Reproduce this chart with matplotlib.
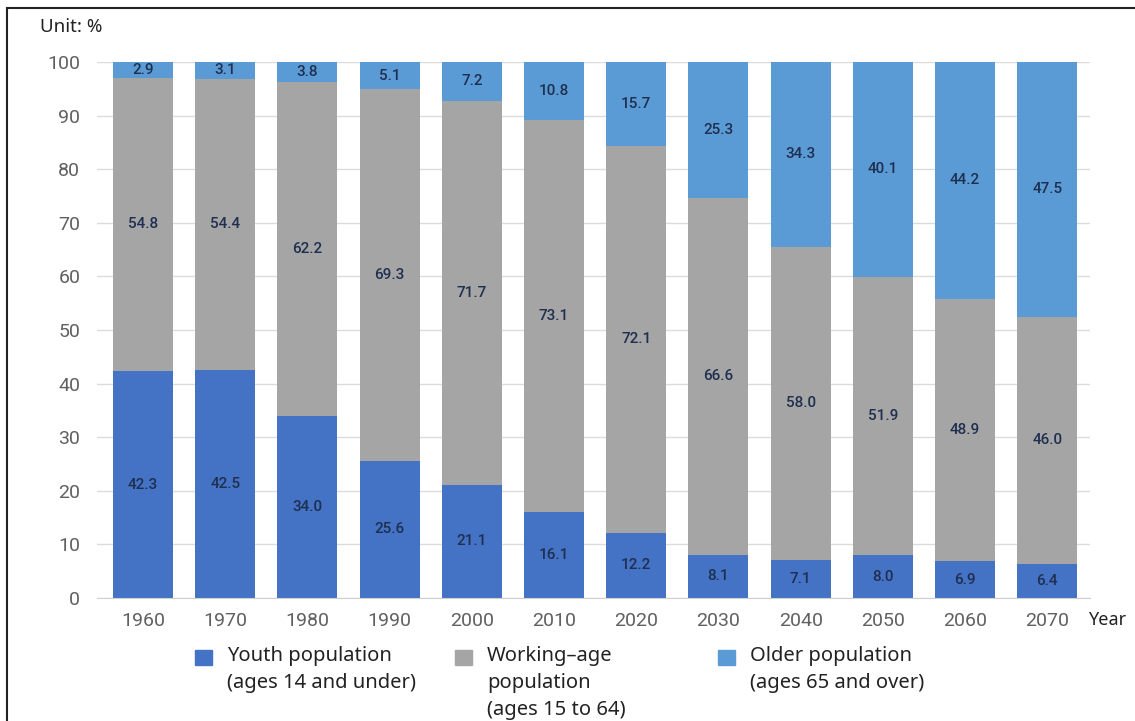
import matplotlib
matplotlib.use("Agg")
import matplotlib.pyplot as plt
from matplotlib.patches import Rectangle
import numpy as np

years = ["1960", "1970", "1980", "1990", "2000", "2010", "2020", "2030", "2040", "2050", "2060", "2070"]
youth = [42.3, 42.5, 34.0, 25.6, 21.1, 16.1, 12.2, 8.1, 7.1, 8.0, 6.9, 6.4]
working = [54.8, 54.4, 62.2, 69.3, 71.7, 73.1, 72.1, 66.6, 58.0, 51.9, 48.9, 46.0]
older = [2.9, 3.1, 3.8, 5.1, 7.2, 10.8, 15.7, 25.3, 34.3, 40.1, 44.2, 47.5]
series_labels = ["Youth population\n(ages 14 and under)",
                 "Working\u2013age\npopulation\n(ages 15 to 64)",
                 "Older population\n(ages 65 and over)"]
colors = ["#4472C4", "#A5A5A5", "#5B9BD5"]
yticks = list(range(0, 101, 10))

fig = plt.figure(figsize=(11.35, 7.21), dpi=100)
ax = fig.add_axes([97/1135, 1-598/721, (1090-97)/1135, (598-62)/721])

x = np.arange(len(years))
data = np.array([youth, working, older])
totals = data.sum(axis=0)
shares = data / totals * 100  # 100% stacked
bottom = np.zeros(len(years))
for raw, share, col in zip(data, shares, colors):
    bars = ax.bar(x, share, 0.73, bottom=bottom, color=col, zorder=2, clip_on=False)
    ax.bar_label(bars, labels=[f"{v:.1f}" for v in raw], label_type="center",
                 fontsize=11, color="#1f2f4f", family="Roboto", fontweight="medium")
    bottom += share

ax.set_xlim(-0.56, len(years) - 1 + 0.52)
ax.set_ylim(0, 100)
ax.set_yticks(yticks)
ax.set_xticks(x, years)
ax.grid(axis="y", color="#dcdcdc", linewidth=1, zorder=0)
for s in ["top", "right", "left"]:
    ax.spines[s].set_visible(False)
ax.spines["bottom"].set_color("#d0d0d0")
ax.tick_params(length=0, labelsize=14, labelcolor="#606060")
ax.tick_params(axis="x", pad=10)
ax.tick_params(axis="y", pad=12)
for lab in ax.get_xticklabels() + ax.get_yticklabels():
    lab.set_family("Roboto")

fig.text(40/1135, 1-27/721, "Unit: %", fontsize=13.5, family="Noto Sans", color="#222222", va="center")
fig.text(1088/1135, 1-620/721, "Year", fontsize=13, family="Noto Sans", color="#222222", va="center")

# legend (manual)
leg_x = [195, 455, 718]
for lx, lab, col in zip(leg_x, series_labels, colors):
    fig.patches.append(Rectangle((lx/1135, 1-665/721), 17/1135, 15/721,
                                 transform=fig.transFigure, color=col))
    fig.text((lx + 32)/1135, 1-646/721, lab, fontsize=14.5, family="Noto Sans",
             color="#222222", va="top", linespacing=1.46)

# frame
fig.patches.append(Rectangle((7/1135, -0.1), 1.2, 1-8/721+0.1, transform=fig.transFigure,
                             fill=False, edgecolor="#222222", linewidth=1.5))

fig.savefig("out.png", dpi=100)
